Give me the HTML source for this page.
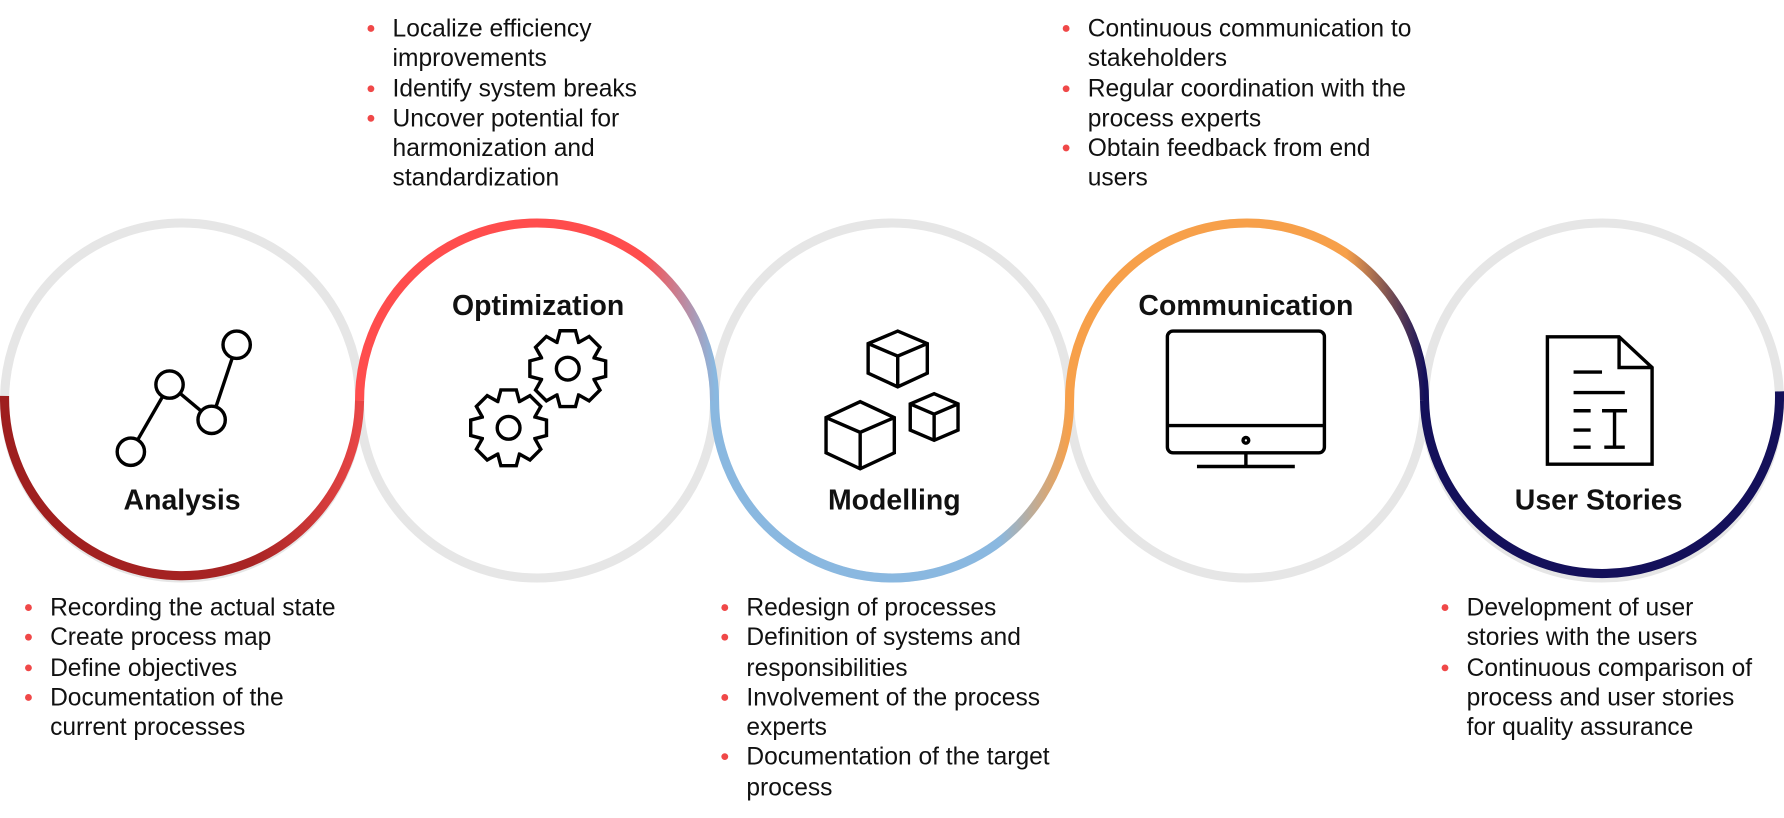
<!DOCTYPE html>
<html><head><meta charset="utf-8"><style>
html,body{margin:0;padding:0;background:#fff;width:1784px;height:818px;overflow:hidden}
#w{position:absolute;left:0;top:0;width:1568px;height:719px;transform:scale(1.1378);transform-origin:0 0;font-family:"Liberation Sans",sans-serif;color:#111}
ul{position:absolute;margin:0;padding:0;list-style:none;font-size:21.6px;line-height:26.3px}
li{position:relative;padding-left:23px}
li:before{content:"";position:absolute;left:1px;top:10px;width:6px;height:6px;border-radius:50%;background:#f04848}
.t{position:absolute;font-weight:bold;font-size:25px;transform:translateX(-50%);white-space:nowrap}
</style></head><body><div id="w">
<svg width="1568" height="719" style="position:absolute;left:0;top:0">
<defs>
<linearGradient id="ga" x1="0" x2="1"><stop offset="0" stop-color="#9e1e1e"/><stop offset="0.7" stop-color="#a82424"/><stop offset="1" stop-color="#e84646"/></linearGradient>
<linearGradient id="go" x1="0" x2="1"><stop offset="0" stop-color="#ff4d4d"/><stop offset="0.8" stop-color="#ff4d4d"/><stop offset="1" stop-color="#8ab8e0"/></linearGradient>
<linearGradient id="gm" x1="0" x2="1"><stop offset="0" stop-color="#8ab8e0"/><stop offset="0.8" stop-color="#8ab8e0"/><stop offset="1" stop-color="#f7a04a"/></linearGradient>
<linearGradient id="gc" x1="0" x2="1"><stop offset="0" stop-color="#f7a04a"/><stop offset="0.78" stop-color="#f7a04a"/><stop offset="1" stop-color="#14105a"/></linearGradient>
</defs>
<g fill="none" stroke="#e6e6e6" stroke-width="8">
<circle cx="160" cy="352" r="156"/><circle cx="472" cy="352" r="156"/><circle cx="784" cy="352" r="156"/><circle cx="1096" cy="352" r="156"/><circle cx="1408" cy="352" r="156"/>
</g>
<g fill="none" stroke-width="8">
<path d="M4 348 A156 156 0 0 0 316 352" stroke="url(#ga)"/>
<path d="M316 352 A156 156 0 0 1 628 352" stroke="url(#go)"/>
<path d="M628 352 A156 156 0 0 0 940 352" stroke="url(#gm)"/>
<path d="M940 352 A156 156 0 0 1 1252 352" stroke="url(#gc)"/>
<path d="M1252 352 A156 156 0 0 0 1564 344" stroke="#14105a"/>
</g>
<g fill="none" stroke="#000" stroke-width="3">
<line x1="115" y1="397" x2="149" y2="338"/><line x1="149" y1="338" x2="186" y2="369"/><line x1="186" y1="369" x2="208" y2="303"/>
<circle cx="115" cy="397" r="12" fill="#fff"/><circle cx="149" cy="338" r="12" fill="#fff"/><circle cx="186" cy="369" r="12" fill="#fff"/><circle cx="208" cy="303" r="12" fill="#fff"/>
<path id="g1" transform="translate(447,376)"/><circle cx="447" cy="376" r="10"/>
<path id="g2" transform="translate(499,324)"/><circle cx="499" cy="324" r="10"/>
<path d="M726 367 L756 353 L786 367 L786 398 L756 412 L726 398Z M726 367 L756 380 L786 367 M756 380 L756 412"/>
<path d="M763 302 L789 291 L815 302 L815 328 L789 340 L763 328Z M763 302 L789 313 L815 302 M789 313 L789 340"/>
<path d="M800 355 L821 346 L842 355 L842 378 L821 387 L800 378Z M800 355 L821 364 L842 355 M821 364 L821 387"/>
<rect x="1026" y="291" width="138" height="107" rx="5"/><line x1="1026" y1="374" x2="1164" y2="374"/><circle cx="1095" cy="387" r="2.5"/><line x1="1095" y1="398" x2="1095" y2="409"/><line x1="1052" y1="410" x2="1138" y2="410"/>
<path d="M1360 296 L1423 296 L1452 323 L1452 408 L1360 408Z M1423 296 L1423 323 L1452 323"/>
<path d="M1383 327 H1408 M1383 345 H1428 M1383 361 H1398 M1383 378 H1398 M1383 393 H1398 M1408 361 H1430 M1419 361 V393 M1410 393 H1428"/>
</g>
</svg>
<script>
(function(){var n=8,ro=34,ri=25,d="";for(var i=0;i<n;i++){var a=i*2*Math.PI/n,w=0.2,g=0.39;
var pts=[[ri,a-g],[ro,a-w],[ro,a+w],[ri,a+g]];pts.forEach(function(p,j){var x=(p[0]*Math.cos(p[1])).toFixed(1),y=(p[0]*Math.sin(p[1])).toFixed(1);d+=(i==0&&j==0?"M":"L")+x+" "+y+" ";});}
d+="Z";["g1","g2"].forEach(function(id){document.getElementById(id).setAttribute("d",d);});})();
</script>
<div class="t" style="left:473px;top:255px">Optimization</div>
<div class="t" style="left:1095px;top:255px">Communication</div>
<div class="t" style="left:160px;top:426px">Analysis</div>
<div class="t" style="left:786px;top:426px">Modelling</div>
<div class="t" style="left:1405px;top:426px">User Stories</div>
<ul style="left:322px;top:12px;width:263px"><li>Localize efficiency improvements</li><li>Identify system breaks</li><li>Uncover potential for harmonization and standardization</li></ul>
<ul style="left:933px;top:12px;width:318px"><li>Continuous communication to stakeholders</li><li>Regular coordination with the process experts</li><li>Obtain feedback from end users</li></ul>
<ul style="left:21px;top:521px;width:283px"><li>Recording the actual state</li><li>Create process map</li><li>Define objectives</li><li>Documentation of the current processes</li></ul>
<ul style="left:633px;top:521px;width:298px"><li>Redesign of processes</li><li>Definition of systems and responsibilities</li><li>Involvement of the process experts</li><li>Documentation of the target process</li></ul>
<ul style="left:1266px;top:521px;width:281px"><li>Development of user stories with the users</li><li>Continuous comparison of process and user stories for quality assurance</li></ul>
</div></body></html>
